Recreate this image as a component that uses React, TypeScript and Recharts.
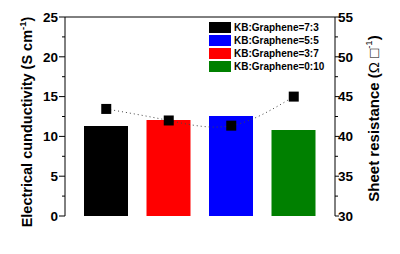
import React from "react";
import {
  ComposedChart,
  Bar,
  Line,
  XAxis,
  YAxis,
  Cell,
  ReferenceLine,
  Legend,
} from "recharts";

const categories = ["7:3", "3:7", "5:5", "0:10"];
const conductivity = [11.3, 12.05, 12.55, 10.8];
const resistance = [43.45, 42.0, 41.35, 45.0];
const barColors = ["#000000", "#ff0000", "#0000ff", "#008000"];
const leftTicks = [0, 2.5, 5, 7.5, 10, 12.5, 15, 17.5, 20, 22.5, 25];
const rightTicks = [30, 32.5, 35, 37.5, 40, 42.5, 45, 47.5, 50, 52.5, 55];
const legendLabels = [
  "KB:Graphene=7:3",
  "KB:Graphene=5:5",
  "KB:Graphene=3:7",
  "KB:Graphene=0:10",
];
const legendColors = ["#000000", "#0000ff", "#ff0000", "#008000"];

const data = categories.map((c, i) => ({
  name: c,
  cond: conductivity[i],
  res: resistance[i],
}));

const FONT = "'Liberation Sans', Arial, sans-serif";

const LeftTick = (props: any) => {
  const { x, y, payload } = props;
  const major = payload.value % 5 === 0;
  return (
    <g>
      <line x1={x} x2={x - (major ? 6 : 3)} y1={y} y2={y} stroke="#000" strokeWidth={1} />
      {major && (
        <text
          x={x - 7}
          y={y}
          dy="0.36em"
          textAnchor="end"
          fontFamily={FONT}
          fontWeight="bold"
          fontSize={13.5}
          fill="#000"
        >
          {payload.value}
        </text>
      )}
    </g>
  );
};

const RightTick = (props: any) => {
  const { x, y, payload } = props;
  const major = payload.value % 5 === 0;
  return (
    <g>
      <line x1={x} x2={x + (major ? 4 : 3)} y1={y} y2={y} stroke="#000" strokeWidth={1} />
      {major && (
        <text
          x={x + 3}
          y={y}
          dy="0.36em"
          textAnchor="start"
          fontFamily={FONT}
          fontWeight="bold"
          fontSize={13.5}
          fill="#000"
        >
          {payload.value}
        </text>
      )}
    </g>
  );
};

const LeftLabel = () => (
  <text
    x={27}
    y={122}
    transform="rotate(-90 27 122)"
    textAnchor="middle"
    dominantBaseline="central"
    fontFamily={FONT}
    fontWeight="bold"
    fontSize={14.5}
    fill="#000"
  >
    Electrical cunductivity (S cm
    <tspan fontSize={9.5} dy={-5}>-1</tspan>
    <tspan dy={5}>)</tspan>
  </text>
);

const RightLabel = () => (
  <text
    x={373}
    y={118.5}
    transform="rotate(-90 373 118.5)"
    textAnchor="middle"
    dominantBaseline="central"
    fontFamily={FONT}
    fontWeight="bold"
    fontSize={15}
    fill="#000"
  >
    Sheet resistance (
    <tspan fontWeight="normal">Ω □</tspan>
    <tspan fontSize={9.5} fontWeight="normal" dy={-5}>-1</tspan>
    <tspan dy={5}>)</tspan>
  </text>
);

const SquareDot = (props: any) => {
  const { cx, cy, index } = props;
  if (cx == null || cy == null) return null;
  return <rect key={index} x={cx - 5} y={cy - 5} width={10} height={10} fill="#000" />;
};

const LegendBox = () => (
  <div style={{ fontFamily: FONT, fontSize: 10, fontWeight: "bold", lineHeight: "13px" }}>
    {legendLabels.map((l, i) => (
      <div key={l} style={{ display: "flex", alignItems: "center", height: 13 }}>
        <div style={{ width: 22, height: 11, background: legendColors[i], marginRight: 3 }} />
        <span style={{ color: "#000", whiteSpace: "nowrap" }}>{l}</span>
      </div>
    ))}
  </div>
);

export default function App() {
  return (
    <div style={{ position: "absolute", left: 0, top: 0, width: 400, height: 254, background: "#fff" }}>
      <ComposedChart
        width={400}
        height={254}
        data={data}
        margin={{ top: 17, right: 0, bottom: 38, left: 0 }}
      >
        <XAxis
          dataKey="name"
          xAxisId="x"
          tick={false}
          tickLine={false}
          height={0}
          padding={{ left: 10, right: 10 }}
          axisLine={{ stroke: "#000", strokeWidth: 1 }}
        />
        <YAxis
          yAxisId="left"
          orientation="left"
          width={65}
          domain={[0, 25]}
          ticks={leftTicks}
          interval={0}
          tickLine={false}
          tickSize={0}
          tickMargin={0}
          tick={<LeftTick />}
          axisLine={{ stroke: "#000", strokeWidth: 1 }}
          label={<LeftLabel />}
        />
        <YAxis
          yAxisId="right"
          orientation="right"
          width={65}
          domain={[30, 55]}
          ticks={rightTicks}
          interval={0}
          tickLine={false}
          tickSize={0}
          tickMargin={0}
          tick={<RightTick />}
          axisLine={{ stroke: "#000", strokeWidth: 1 }}
          label={<RightLabel />}
        />
        <ReferenceLine yAxisId="left" xAxisId="x" y={25} stroke="#000" strokeWidth={1} />
        <Bar dataKey="cond" xAxisId="x" yAxisId="left" barSize={44} isAnimationActive={false}>
          {data.map((d, i) => (
            <Cell key={d.name} fill={barColors[i]} />
          ))}
        </Bar>
        <Line
          dataKey="res"
          xAxisId="x"
          yAxisId="right"
          type="natural"
          stroke="#444"
          strokeWidth={1}
          strokeDasharray="1 3"
          dot={<SquareDot />}
          activeDot={false}
          isAnimationActive={false}
        />
        <Legend
          layout="vertical"
          align="center"
          verticalAlign="middle"
          content={<LegendBox />}
          wrapperStyle={{ position: "absolute", left: 209, top: 21, width: 130 }}
        />
      </ComposedChart>
    </div>
  );
}
